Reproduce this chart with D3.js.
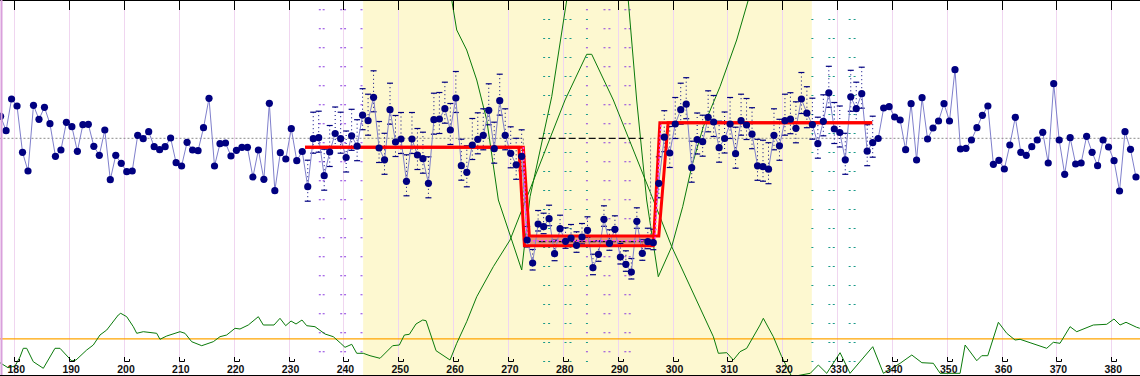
<!DOCTYPE html>
<html><head><meta charset="utf-8">
<script src="https://cdn.jsdelivr.net/npm/d3@7"></script>
<style>html,body{margin:0;padding:0;background:#fff;} svg{display:block;}</style>
</head><body><svg id="c" width="1140" height="376"></svg>
<script>
// ---------------- data ----------------
const firstTime = 177.5;              // time of first sample (one sample per unit)
const values = [2.20,0.76,3.93,3.23,-1.40,-3.27,3.30,1.90,3.10,1.46,
-1.80,-1.17,1.60,1.16,-1.30,1.36,1.40,-0.80,-1.70,0.83,
-4.14,-1.70,-2.50,-3.34,-3.27,0.30,-0.04,0.66,-0.84,-1.14,
-0.84,0.03,-2.44,-2.77,-0.40,-1.17,-1.24,1.06,4.00,-2.77,
-0.54,-0.47,-1.77,-1.20,-0.90,-0.90,-3.87,-1.17,-4.10,3.50,
-5.24,-1.44,-2.07,0.96,-2.24,-1.32,-4.84,-0.04,0.06,-3.74,
-1.37,0.48,-0.04,-1.92,0.25,-0.79,2.31,1.76,4.10,-0.97,
-2.15,2.86,-0.37,-0.07,-4.30,-0.07,-1.67,-2.04,-4.50,1.86,
1.93,2.96,0.83,4.03,-2.74,-3.40,-0.67,-0.10,0.30,2.80,
-1.04,3.76,0.30,-1.50,-2.65,-1.80,-10.17,-12.47,-8.57,-8.84,
-8.04,-11.54,-9.04,-10.30,-9.97,-10.70,-9.87,-9.20,-12.94,-11.60,
-8.10,-10.50,-9.10,-11.87,-12.60,-13.37,-8.30,-11.50,-10.34,-10.44,
-4.50,0.11,-1.47,1.43,2.86,3.41,-2.94,-0.12,-0.34,2.10,
1.63,-0.94,-0.02,1.43,-1.54,1.76,1.33,0.41,-2.75,-2.84,
-3.09,0.30,-0.75,1.76,1.91,1.00,3.93,2.51,1.36,-0.54,
1.70,4.55,0.93,0.58,-2.15,4.15,2.96,4.46,-1.29,-0.44,
-0.02,3.03,3.16,2.13,1.83,-1.14,3.46,-2.17,4.06,-0.07,
1.03,1.73,3.46,1.73,6.86,-1.07,-1.00,-0.17,1.06,2.30,
3.23,-2.60,-2.20,-3.07,-0.67,2.10,-1.40,-1.70,-0.84,-0.17,
0.60,-2.47,5.46,-0.17,-3.60,0.06,-2.57,-2.47,0.20,-1.40,
-2.74,-0.17,-0.87,-2.24,-5.27,0.66,-1.10,-3.87];

// error-bar extents by sample range [first, last, up, down]
const errRanges = [[56,95,2.65,1.45],[96,119,1.35,0.7],[120,159,2.65,1.45]];

const tickLabels = [180,190,200,210,220,230,240,250,260,270,280,290,300,310,320,330,340,350,360,370,380];
const bandTimes = [243.6, 325.4];     // highlighted window

// fitted step (two envelope paths) [time, level]
const stepEarly = [[233,-0.9],[272.0,-0.9],[273.0,-10.74],[296.5,-10.74],[297.7,1.56],[336.4,1.56]];
const stepLate  = [[233,-0.9],[272.8,-0.9],[273.9,-9.77],[297.5,-9.77],[299.2,1.56],[336.4,1.56]];
const stepFill  = [273.9, 296.5, -9.77, -10.74];
const stepMid   = [[272.8,-0.9],[273.4,-10.25],[296.8,-10.25],[297.9,1.56]];
const meanStep  = [[177.3,0],[272.8,0],[272.8,-10.3],[296.0,-10.3],[296.0,0],[385.3,0]];
const dashedSegs = [[275.6,294.7,0],[275.6,294.7,-10.34]];

// statistic curves [time, stat]
const statProfile = [[177.39,-2.44],[178.85,-2.94],[180.13,-2.77],[181.04,-1.87],[181.64,-1.0],[182.26,-1.0],[183.46,-2.34],[185.29,-3.0],[187.42,-1.0],[188.33,-1.0],[190.47,-2.27],[191.25,-2.17],[193.2,-1.17],[194.4,-0.67],[195.62,0.33],[196.85,0.83],[198.96,2.33],[199.4,2.5],[200.49,2.16],[201.7,1.16],[202.32,0.5],[203.52,0.66],[205.96,0.5],[206.56,-0.1],[207.79,0.23],[210.21,0.66],[211.12,0.5],[212.34,-0.34],[214.17,-0.74],[216.28,-0.34],[217.5,0.16],[218.72,0.33],[220.24,1.0],[221.15,0.93],[222.66,1.33],[224.49,2.16],[225.4,1.33],[227.35,1.33],[228.44,2.0],[229.48,1.26],[230.45,1.73],[231.36,1.43],[232.45,1.83],[233.31,1.26],[234.82,1.16],[236.65,0.43],[238.16,0.16],[239.51,-0.5],[240.29,-0.9],[241.52,-0.6],[242.43,-1.5],[243.63,-1.5],[244.85,-1.74],[246.68,-2.0],[248.98,-0.74],[250.2,-0.67],[251.12,0.33],[252.03,0.4],[253.23,1.43],[254.46,1.83],[255.07,1.76],[256.89,-1.24],[259.44,-2.17],[260.66,-0.5],[262.48,1.66],[264.31,4.16],[267.33,7.16],[270.38,9.83],[274.33,15.33],[280.41,23.83],[284.36,28.4],[285.27,28.4],[289.21,23.83],[296.51,13.83],[299.86,9.16],[307.45,0.16],[308.36,-1.5],[309.89,-1.44],[311.09,-2.17],[312.31,-1.34],[313.53,-1.0],[315.96,1.33],[316.56,2.0],[318.38,0.16],[319.91,-1.84],[321.74,-3.84],[325.12,-3.5],[326.59,-2.67],[328.12,-3.5],[330.55,-1.44],[332.37,-3.5],[336.51,-0.84],[338.45,-3.5],[341.5,-2.5],[343.63,-1.67],[345.46,-2.44],[347.56,-2.5],[348.79,-3.5],[352.43,-3.5],[353.35,-0.67],[355.47,-2.24],[356.38,-1.74],[357.48,-1.74],[359.41,1.6],[360.94,0.5],[362.45,-0.17],[363.37,-0.1],[365.19,-0.44],[368.23,-1.0],[369.43,-0.4],[370.65,-0.5],[372.48,1.16],[373.7,0.66],[376.72,1.33],[379.16,1.4],[380.49,1.93],[381.59,1.33],[382.68,1.6],[384.63,1.1],[385.2,1.0]];
const statFirst = [[258.89,35.83],[259.75,33.83],[260.66,30.83],[262.48,28.83],[264.31,25.83],[266.13,21.83],[268.25,13.83],[272.51,6.83],[274.03,14.16],[277.98,24.16],[280.72,33.83],[281.32,35.83]];
const statSecond = [[291.52,35.83],[291.93,33.83],[293.47,23.83],[295.29,13.83],[297.41,6.16],[299.85,9.16],[301.86,13.16],[303.5,17.16],[305.62,21.16],[308.66,25.16],[311.7,29.83],[313.82,33.83],[315.04,35.83]];
const threshold = 0;

// dotted marker columns [time, colour, phase]
const dotCols = [
  [235.7,'#8a3be0',0],[236.4,'#8a3be0',0],[239.6,'#8a3be0',0],[240.3,'#8a3be0',0],[243.3,'#8a3be0',0],
  [276.6,'#1a9a8a',1],[277.5,'#1a9a8a',1],[280.5,'#1a9a8a',1],[281.4,'#1a9a8a',1],
  [284.4,'#8a3be0',0],[284.4,'#1a9a8a',1],
  [287.6,'#8a3be0',0],[288.5,'#8a3be0',0],[291.4,'#8a3be0',0],[292.2,'#8a3be0',0],
  [325.5,'#1a9a8a',1],[328.6,'#1a9a8a',1],[329.4,'#1a9a8a',1],[332.3,'#1a9a8a',1],[333.2,'#1a9a8a',1]
];

// ---------------- drawing ----------------
const W = 1140, H = 376, plotBottom = 375;
const svg = d3.select('#c');
const x = d3.scaleLinear().domain([180, 380]).range([14.3, 1111.3]);
const y = d3.scaleLinear().domain([0, -10]).range([138.3, 238.3]);
const s = d3.scaleLinear().domain([0, 10]).range([338.3, 238.3]);

svg.append('defs').append('clipPath').attr('id','clip')
  .append('rect').attr('x',0).attr('y',0).attr('width',W).attr('height',plotBottom);
const g = svg.append('g').attr('clip-path','url(#clip)');

g.append('rect').attr('x',0).attr('y',0).attr('width',W).attr('height',plotBottom).attr('fill','#fff');
g.append('rect').attr('x',x(bandTimes[0])).attr('y',0)
  .attr('width',x(bandTimes[1])-x(bandTimes[0])).attr('height',plotBottom).attr('fill','#fdf8d0');

// grid
g.selectAll('.grid').data(tickLabels).join('line')
  .attr('x1',d=>Math.round(x(d))+0.5).attr('x2',d=>Math.round(x(d))+0.5)
  .attr('y1',10).attr('y2',plotBottom).attr('stroke','#f0d6f0').attr('stroke-width',1);

// dotted columns
g.selectAll('.dcol').data(dotCols).join('line')
  .attr('x1',d=>x(d[0])).attr('x2',d=>x(d[0]))
  .attr('y1',d=>d[2]?19:9.3).attr('y2',370)
  .attr('stroke',d=>d[1]).attr('stroke-width',2)
  .attr('stroke-dasharray','1,18');

// threshold
g.append('line').attr('x1',0).attr('x2',W).attr('y1',s(threshold)+0.5).attr('y2',s(threshold)+0.5)
  .attr('stroke','#ffa500').attr('stroke-width',1.2);

// statistic curves
const sl = d3.line().x(d=>x(d[0])).y(d=>s(d[1]));
[statProfile, statFirst, statSecond].forEach(c=>{
  g.append('path').attr('d',sl(c)).attr('fill','none').attr('stroke','#0a7a0a').attr('stroke-width',1);
});

const vl = d3.line().x(d=>x(d[0])).y(d=>y(d[1]));
// mean (gray dotted)
g.append('path').attr('d',vl(meanStep)).attr('fill','none').attr('stroke','#8a8a8a')
  .attr('stroke-width',1).attr('stroke-dasharray','2,2');

// salmon fill
g.append('rect').attr('x',x(stepFill[0])).attr('y',y(stepFill[2]))
  .attr('width',x(stepFill[1])-x(stepFill[0])).attr('height',y(stepFill[3])-y(stepFill[2]))
  .attr('fill','#e9977c');

// black dashed
g.selectAll('.bd').data(dashedSegs).join('line')
  .attr('x1',d=>x(d[0])).attr('x2',d=>x(d[1])).attr('y1',d=>y(d[2])).attr('y2',d=>y(d[2]))
  .attr('stroke','#111').attr('stroke-width',1.2).attr('stroke-dasharray','7,3');

// data
const pts = values.map((v,i)=>({t:firstTime+i, v, i}));
const eb = [];
errRanges.forEach(([a,b,up,dn])=>pts.forEach(p=>{ if(p.i>=a && p.i<=b) eb.push({t:p.t, hi:p.v+up, lo:p.v-dn}); }));
g.selectAll('.ebl').data(eb).join('line')
  .attr('x1',d=>x(d.t)).attr('x2',d=>x(d.t))
  .attr('y1',d=>y(d.hi)).attr('y2',d=>y(d.lo))
  .attr('stroke','#000080').attr('stroke-width',1).attr('stroke-dasharray','1,3');
g.selectAll('.ebu').data(eb).join('line')
  .attr('x1',d=>x(d.t)-3).attr('x2',d=>x(d.t)+3)
  .attr('y1',d=>y(d.hi)).attr('y2',d=>y(d.hi))
  .attr('stroke','#000080').attr('stroke-width',1.2);
g.selectAll('.ebd').data(eb).join('line')
  .attr('x1',d=>x(d.t)-3).attr('x2',d=>x(d.t)+3)
  .attr('y1',d=>y(d.lo)).attr('y2',d=>y(d.lo))
  .attr('stroke','#000080').attr('stroke-width',1.2);

g.append('path').attr('d',d3.line().x(d=>x(d.t)).y(d=>y(d.v))(pts))
  .attr('fill','none').attr('stroke','#7f7fcc').attr('stroke-width',1);

// red step envelope
[stepEarly, stepLate].forEach(c=>{
  g.append('path').attr('d',vl(c)).attr('fill','none').attr('stroke','#ff0000').attr('stroke-width',3);
});
g.append('path').attr('d',vl(stepMid)).attr('fill','none').attr('stroke','#ff40ff')
  .attr('stroke-width',1.5).attr('stroke-dasharray','2,2');

// markers
g.selectAll('.mk').data(pts).join('circle')
  .attr('cx',d=>x(d.t)).attr('cy',d=>y(d.v)).attr('r',3.6).attr('fill','#000080');

// frame and axis
svg.append('line').attr('x1',0).attr('x2',W).attr('y1',0.5).attr('y2',0.5).attr('stroke','#000');
svg.append('line').attr('x1',0).attr('x2',W).attr('y1',375.5).attr('y2',375.5).attr('stroke','#000');
svg.append('line').attr('x1',1.5).attr('x2',1.5).attr('y1',0).attr('y2',375).attr('stroke','#d9a0dc').attr('stroke-width',2);
svg.selectAll('.tt').data(tickLabels).join('line')
  .attr('x1',d=>Math.round(x(d))+0.5).attr('x2',d=>Math.round(x(d))+0.5)
  .attr('y1',0).attr('y2',10).attr('stroke','#000');
svg.selectAll('.bt').data(tickLabels).join('path')
  .attr('d',d=>{const X=Math.round(x(d))+0.5; return `M${X},357V361.5H${X+5}V359`;})
  .attr('fill','none').attr('stroke','#000');
svg.selectAll('.lbl').data(tickLabels).join('text')
  .attr('x',d=>x(d)+2).attr('y',372.5).attr('text-anchor','middle')
  .attr('font-family','Liberation Sans, Arial, sans-serif').attr('font-weight','bold')
  .attr('font-size',10.5).attr('fill','#111').text(d=>d);
</script></body></html>
